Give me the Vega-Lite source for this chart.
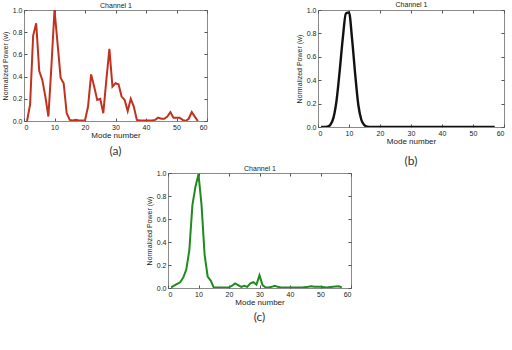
{
  "$schema": "https://vega.github.io/schema/vega-lite/v6.json",
  "background": "white",
  "padding": {"left": 0, "top": 0, "right": 0, "bottom": 0},
  "config": {
    "view": {"stroke": "#8a8a8a", "strokeWidth": 1},
    "font": "Liberation Sans",
    "axis": {
      "grid": false,
      "domain": false,
      "tickSize": -3,
      "tickColor": "#555",
      "labelFont": "Liberation Sans",
      "labelFontSize": 7,
      "labelColor": "#222",
      "labelPadding": 5,
      "titleFont": "Liberation Sans",
      "titleColor": "#222",
      "titleFontWeight": "normal"
    },
    "title": {"font": "Lato", "fontSize": 12, "fontWeight": "normal", "color": "#333"}
  },
  "datasets": {
    "ch1a": [
      {"mode": 1, "power": 0.0}, {"mode": 2, "power": 0.15}, {"mode": 3, "power": 0.77},
      {"mode": 4, "power": 0.88}, {"mode": 5, "power": 0.45}, {"mode": 6, "power": 0.37},
      {"mode": 7, "power": 0.22}, {"mode": 8, "power": 0.04}, {"mode": 9, "power": 0.5},
      {"mode": 10, "power": 1.0}, {"mode": 11, "power": 0.7}, {"mode": 12, "power": 0.39},
      {"mode": 13, "power": 0.34}, {"mode": 14, "power": 0.07}, {"mode": 15, "power": 0.01},
      {"mode": 16, "power": 0.005}, {"mode": 17, "power": 0.01}, {"mode": 18, "power": 0.005},
      {"mode": 19, "power": 0.005}, {"mode": 20, "power": 0.005}, {"mode": 21, "power": 0.13},
      {"mode": 22, "power": 0.42}, {"mode": 23, "power": 0.31}, {"mode": 24, "power": 0.19},
      {"mode": 25, "power": 0.2}, {"mode": 26, "power": 0.07}, {"mode": 27, "power": 0.37},
      {"mode": 28, "power": 0.65}, {"mode": 29, "power": 0.31}, {"mode": 30, "power": 0.34},
      {"mode": 31, "power": 0.33}, {"mode": 32, "power": 0.22}, {"mode": 33, "power": 0.19},
      {"mode": 34, "power": 0.09}, {"mode": 35, "power": 0.2}, {"mode": 36, "power": 0.13},
      {"mode": 37, "power": 0.01}, {"mode": 38, "power": 0.005}, {"mode": 39, "power": 0.005},
      {"mode": 40, "power": 0.005}, {"mode": 41, "power": 0.005}, {"mode": 42, "power": 0.005},
      {"mode": 43, "power": 0.01}, {"mode": 44, "power": 0.03}, {"mode": 45, "power": 0.02},
      {"mode": 46, "power": 0.02}, {"mode": 47, "power": 0.04}, {"mode": 48, "power": 0.08},
      {"mode": 49, "power": 0.03}, {"mode": 50, "power": 0.03}, {"mode": 51, "power": 0.03},
      {"mode": 52, "power": 0.01}, {"mode": 53, "power": 0.0}, {"mode": 54, "power": 0.02},
      {"mode": 55, "power": 0.08}, {"mode": 56, "power": 0.04}, {"mode": 57, "power": 0.0}
    ],
    "ch1b": [
      {"mode": 1, "power": 0.0}, {"mode": 2, "power": 0.0}, {"mode": 3, "power": 0.003},
      {"mode": 4, "power": 0.02}, {"mode": 5, "power": 0.08}, {"mode": 6, "power": 0.23},
      {"mode": 7, "power": 0.48}, {"mode": 8, "power": 0.76}, {"mode": 9, "power": 0.97},
      {"mode": 10, "power": 0.98}, {"mode": 11, "power": 0.75}, {"mode": 12, "power": 0.45},
      {"mode": 13, "power": 0.19}, {"mode": 14, "power": 0.06}, {"mode": 15, "power": 0.015},
      {"mode": 16, "power": 0.002}, {"mode": 17, "power": 0.0}, {"mode": 20, "power": 0.0},
      {"mode": 30, "power": 0.0}, {"mode": 40, "power": 0.0}, {"mode": 50, "power": 0.0},
      {"mode": 57, "power": 0.0}
    ],
    "ch1c": [
      {"mode": 1, "power": 0.005}, {"mode": 2, "power": 0.02}, {"mode": 3, "power": 0.035},
      {"mode": 4, "power": 0.05}, {"mode": 5, "power": 0.09}, {"mode": 6, "power": 0.16},
      {"mode": 7, "power": 0.33}, {"mode": 8, "power": 0.72}, {"mode": 9, "power": 0.88},
      {"mode": 10, "power": 0.99}, {"mode": 11, "power": 0.72}, {"mode": 12, "power": 0.29},
      {"mode": 13, "power": 0.1}, {"mode": 14, "power": 0.065}, {"mode": 15, "power": 0.005},
      {"mode": 16, "power": 0.005}, {"mode": 17, "power": 0.005}, {"mode": 18, "power": 0.005},
      {"mode": 19, "power": 0.005}, {"mode": 20, "power": 0.005}, {"mode": 21, "power": 0.02},
      {"mode": 22, "power": 0.04}, {"mode": 23, "power": 0.025}, {"mode": 24, "power": 0.01},
      {"mode": 25, "power": 0.02}, {"mode": 26, "power": 0.01}, {"mode": 27, "power": 0.04},
      {"mode": 28, "power": 0.05}, {"mode": 29, "power": 0.03}, {"mode": 30, "power": 0.11},
      {"mode": 31, "power": 0.025}, {"mode": 32, "power": 0.005}, {"mode": 33, "power": 0.005},
      {"mode": 34, "power": 0.01}, {"mode": 35, "power": 0.02}, {"mode": 36, "power": 0.01},
      {"mode": 37, "power": 0.005}, {"mode": 38, "power": 0.005}, {"mode": 40, "power": 0.005},
      {"mode": 42, "power": 0.005}, {"mode": 44, "power": 0.005}, {"mode": 46, "power": 0.01},
      {"mode": 47, "power": 0.015}, {"mode": 48, "power": 0.01}, {"mode": 50, "power": 0.01},
      {"mode": 52, "power": 0.005}, {"mode": 54, "power": 0.01}, {"mode": 56, "power": 0.015},
      {"mode": 57, "power": 0.005}
    ]
  },
  "bounds": "flush",
  "spacing": 163,
  "vconcat": [
    {
      "bounds": "flush",
      "spacing": 111,
      "hconcat": [
        {
          "width": 183,
          "height": 111,
          "data": {"name": "ch1a"},
          "title": {"text": "(a)", "orient": "bottom", "offset": 7},
          "layer": [
            {
              "mark": {"type": "line", "color": "#c0311e", "strokeWidth": 2, "clip": true},
              "encoding": {
                "x": {"field": "mode", "type": "quantitative", "scale": {"domain": [0, 60], "nice": false},
                  "axis": {"values": [0, 10, 20, 30, 40, 50, 60], "title": "Mode number", "titleFontSize": 8, "titlePadding": 1}},
                "y": {"field": "power", "type": "quantitative", "scale": {"domain": [0, 1], "nice": false},
                  "axis": {"values": [0, 0.2, 0.4, 0.6, 0.8, 1], "title": "Normalized Power (w)", "titleFontSize": 7, "titlePadding": 4}}
              }
            },
            {
              "mark": {"type": "line", "opacity": 0},
              "encoding": {
                "x": {"field": "mode", "type": "quantitative",
                  "axis": {"orient": "top", "values": [0, 10, 20, 30, 40, 50, 60], "labels": false, "title": "Channel 1", "titleFontSize": 7, "titlePadding": 1}},
                "y": {"field": "power", "type": "quantitative",
                  "axis": {"orient": "right", "values": [0, 0.2, 0.4, 0.6, 0.8, 1], "labels": false, "title": null}}
              }
            }
          ],
          "resolve": {"axis": {"x": "independent", "y": "independent"}}
        },
        {
          "width": 186,
          "height": 117,
          "data": {"name": "ch1b"},
          "title": {"text": "(b)", "orient": "bottom", "offset": 11},
          "layer": [
            {
              "mark": {"type": "line", "color": "#111111", "strokeWidth": 2.4, "interpolate": "monotone", "clip": true},
              "encoding": {
                "x": {"field": "mode", "type": "quantitative", "scale": {"domain": [0, 60], "nice": false},
                  "axis": {"values": [0, 10, 20, 30, 40, 50, 60], "title": "Mode number", "titleFontSize": 8, "titlePadding": 1}},
                "y": {"field": "power", "type": "quantitative", "scale": {"domain": [0, 1], "nice": false},
                  "axis": {"values": [0, 0.2, 0.4, 0.6, 0.8, 1], "title": "Normalized Power (w)", "titleFontSize": 7, "titlePadding": 4}}
              }
            },
            {
              "mark": {"type": "line", "opacity": 0},
              "encoding": {
                "x": {"field": "mode", "type": "quantitative",
                  "axis": {"orient": "top", "values": [0, 10, 20, 30, 40, 50, 60], "labels": false, "title": "Channel 1", "titleFontSize": 7, "titlePadding": 2}},
                "y": {"field": "power", "type": "quantitative",
                  "axis": {"orient": "right", "values": [0, 0.2, 0.4, 0.6, 0.8, 1], "labels": false, "title": null}}
              }
            }
          ],
          "resolve": {"axis": {"x": "independent", "y": "independent"}}
        }
      ]
    },
    {
      "bounds": "flush",
      "spacing": 0,
      "hconcat": [
        {
          "width": 144,
          "height": 115,
          "data": {"values": []},
          "mark": "point",
          "view": {"stroke": null}
        },
        {
          "width": 183,
          "height": 115,
          "data": {"name": "ch1c"},
          "title": {"text": "(c)", "orient": "bottom", "offset": 6},
          "layer": [
            {
              "mark": {"type": "line", "color": "#1f8a1f", "strokeWidth": 2, "clip": true},
              "encoding": {
                "x": {"field": "mode", "type": "quantitative", "scale": {"domain": [0, 60], "nice": false},
                  "axis": {"values": [0, 10, 20, 30, 40, 50, 60], "title": "Mode number", "titleFontSize": 8, "titlePadding": 1}},
                "y": {"field": "power", "type": "quantitative", "scale": {"domain": [0, 1], "nice": false},
                  "axis": {"values": [0, 0.2, 0.4, 0.6, 0.8, 1], "title": "Normalized Power (w)", "titleFontSize": 7, "titlePadding": 4}}
              }
            },
            {
              "mark": {"type": "line", "opacity": 0},
              "encoding": {
                "x": {"field": "mode", "type": "quantitative",
                  "axis": {"orient": "top", "values": [0, 10, 20, 30, 40, 50, 60], "labels": false, "title": "Channel 1", "titleFontSize": 7, "titlePadding": 1}},
                "y": {"field": "power", "type": "quantitative",
                  "axis": {"orient": "right", "values": [0, 0.2, 0.4, 0.6, 0.8, 1], "labels": false, "title": null}}
              }
            }
          ],
          "resolve": {"axis": {"x": "independent", "y": "independent"}}
        }
      ]
    }
  ]
}
